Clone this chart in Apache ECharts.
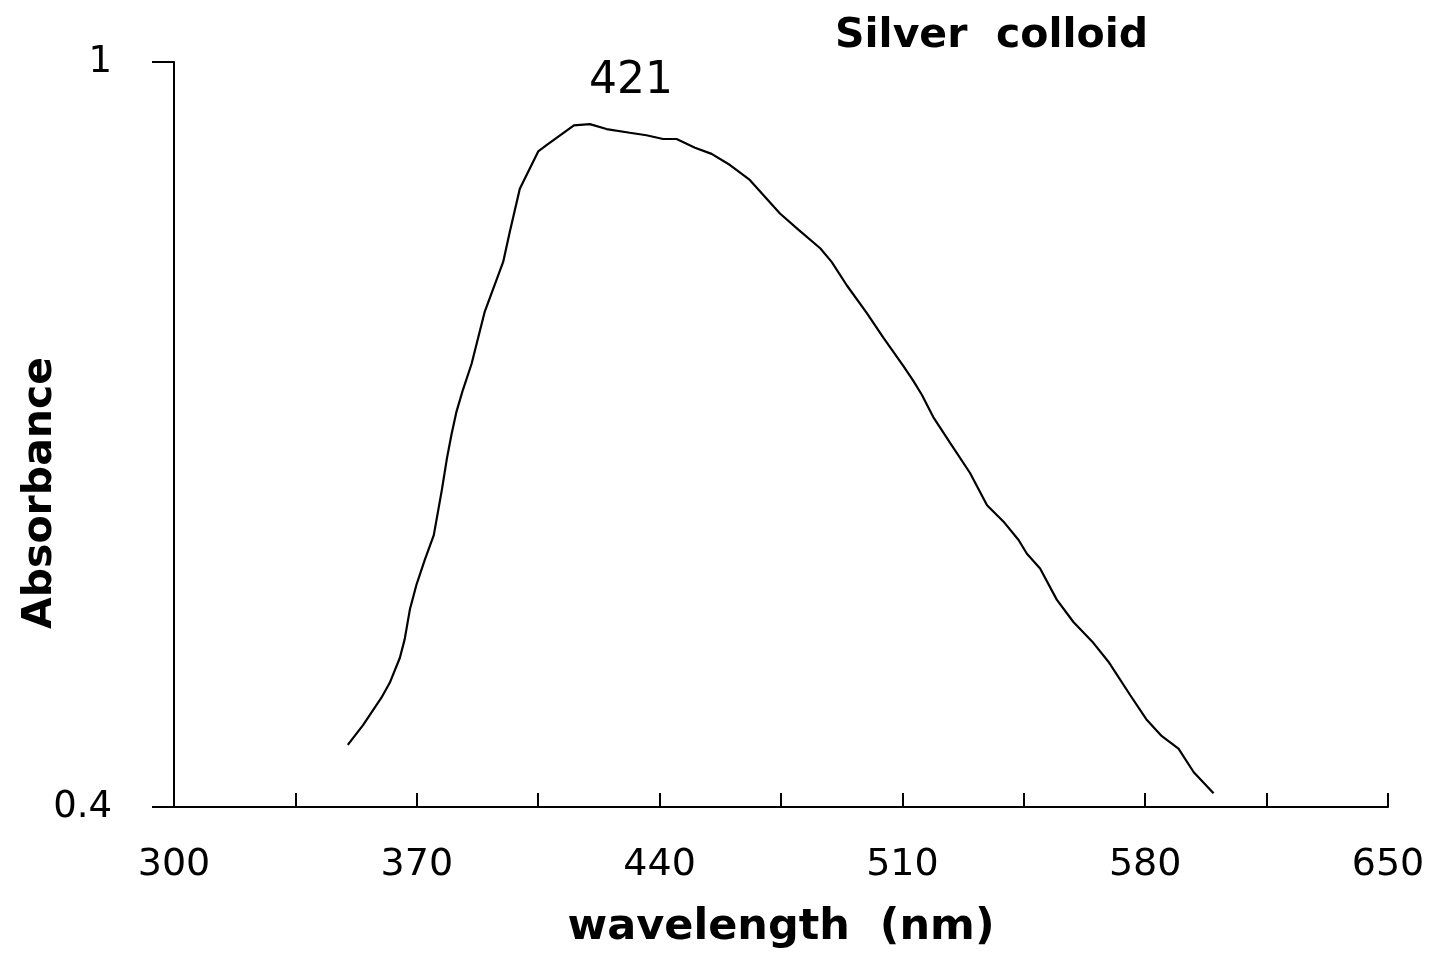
<!DOCTYPE html>
<html>
<head>
<meta charset="utf-8">
<script src="https://cdn.jsdelivr.net/npm/echarts@6/dist/echarts.min.js"></script>
<style>
html,body{margin:0;padding:0;background:#fff;}
#chart{width:1438px;height:956px;}
</style>
</head>
<body>
<div id="chart"></div>
<script>
// Data
const wavelength = [350.1,354.5,359.8,362.2,365.1,366.5,368.0,369.9,372.3,374.9,377.2,378.7,380.0,381.4,383.3,385.8,389.6,394.9,396.8,399.7,405.0,407.4,415.3,419.9,424.7,431.4,436.2,441.0,444.9,450.2,455.0,460.3,466.0,474.7,480.0,486.3,489.6,494.0,499.7,504.5,510.3,513.2,515.6,518.9,523.8,529.5,534.4,539.1,543.5,545.9,549.7,554.5,559.3,565.1,569.4,575.7,580.5,584.8,589.6,594.0,599.7];
const absorbance = [0.450,0.466,0.488,0.500,0.520,0.535,0.559,0.579,0.599,0.619,0.655,0.681,0.700,0.718,0.736,0.757,0.799,0.839,0.863,0.898,0.928,0.933,0.949,0.950,0.946,0.943,0.941,0.938,0.938,0.931,0.926,0.917,0.905,0.878,0.865,0.850,0.839,0.820,0.798,0.778,0.755,0.743,0.732,0.714,0.693,0.669,0.643,0.630,0.615,0.604,0.592,0.567,0.549,0.532,0.517,0.490,0.470,0.457,0.447,0.428,0.411];
const xTickLabels = [300,370,440,510,580,650];
const yTickLabels = [0.4,1];
const titleText = 'Silver  colloid';
const peakText = '421';
const xName = 'wavelength  (nm)';
const yName = 'Absorbance';

const seriesData = wavelength.map((w,i)=>[w, absorbance[i]]);

const chart = echarts.init(document.getElementById('chart'), null, {renderer:'canvas'});
const FONT = 'DejaVu Sans';
chart.setOption({
  animation:false,
  backgroundColor:'#fff',
  grid:{left:174, right:50, top:62, bottom:149, containLabel:false},
  xAxis:{
    type:'value', min:300, max:650, interval:35,
    axisLine:{show:true, onZero:false, lineStyle:{color:'#000', width:2}},
    axisTick:{show:true, inside:true, length:14, lineStyle:{color:'#000', width:2}},
    splitLine:{show:false},
    axisLabel:{
      color:'#000', fontFamily:FONT, fontSize:38, margin:39,
      formatter:(v)=> xTickLabels.includes(Math.round(v)) ? String(Math.round(v)) : ''
    },
    name:xName, nameLocation:'middle', nameGap:99,
    nameTextStyle:{color:'#000', fontFamily:FONT, fontWeight:'bold', fontSize:43}
  },
  yAxis:{
    type:'value', min:0.4, max:1, interval:0.6,
    axisLine:{show:true, onZero:false, lineStyle:{color:'#000', width:2}},
    axisTick:{show:true, inside:false, length:22, lineStyle:{color:'#000', width:2}},
    splitLine:{show:false},
    axisLabel:{
      color:'#000', fontFamily:FONT, fontSize:37, margin:62,
      formatter:(v)=>{ const r = Math.round(v*10)/10; return yTickLabels.includes(r) ? String(r) : ''; }
    }
  },
  graphic:[
    {type:'text', left:835, top:16, style:{text:titleText, fill:'#000', font:'bold 41px "DejaVu Sans"'}},
    {type:'text', x:631, y:82, style:{text:peakText, fill:'#000', font:'44px "DejaVu Sans"', align:'center', verticalAlign:'middle'}},
    {type:'text', x:40, y:493, rotation:Math.PI/2, style:{text:yName, fill:'#000', font:'bold 41px "DejaVu Sans"', align:'center', verticalAlign:'middle'}}
  ],
  series:[{
    type:'line', data:seriesData, showSymbol:false, symbol:'none', smooth:false,
    lineStyle:{color:'#000', width:2.2}
  }]
});
</script>
</body>
</html>
